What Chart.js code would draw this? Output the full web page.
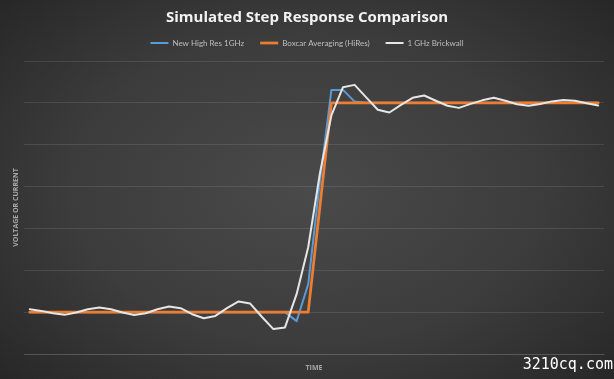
<!DOCTYPE html>
<html>
<head>
<meta charset="utf-8">
<script src="https://cdn.jsdelivr.net/npm/chart.js@4/dist/chart.umd.min.js"></script>
<style>
  html, body { margin: 0; padding: 0; }
  body {
    width: 614px; height: 379px; overflow: hidden; position: relative;
    background: radial-gradient(ellipse 70% 75% at 50% 50%, #4a4a4a 0%, #3c3c3c 55%, #262626 100%);
  }
  #wrap { position: absolute; left: 0; top: 0; width: 614px; height: 379px; }
  #wm {
    position: absolute; right: 1px; top: 355px;
    font-family: "DejaVu Sans Mono", monospace; font-size: 15px; color: #ffffff;
  }
</style>
</head>
<body>
<div id="wrap"><canvas id="c" width="614" height="379"></canvas></div>
<div id="wm">3210cq.com</div>
<script>
const chartTitle = "Simulated Step Response Comparison";
const seriesNames = ["New High Res 1GHz", "Boxcar Averaging (HiRes)", "1 GHz Brickwall"];
const categories = [1,2,3,4,5,6,7,8,9,10,11,12,13,14,15,16,17,18,19,20,21,22,23,24,25,
                    26,27,28,29,30,31,32,33,34,35,36,37,38,39,40,41,42,43,44,45,46,47,48,49,50];
const highRes = [0,0,0,0,0,0,0,0,0,0,0,0,0,0,0,0,0,0,0,0,0,0,0.0,-0.043,0.133,
                 0.62,1.062,1.062,1.006,1,1,1,1,1,1,1,1,1,1,1,1,1,1,1,1,1,1,1,1,1];
const boxcar = [0,0,0,0,0,0,0,0,0,0,0,0,0,0,0,0,0,0,0,0,0,0,0,0,0,
                0.5,1,1,1,1,1,1,1,1,1,1,1,1,1,1,1,1,1,1,1,1,1,1,1,1];
const brickwall = [0.014,0.006,-0.005,-0.013,-0.002,0.014,0.022,0.014,-0.002,-0.014,
                   -0.005,0.014,0.027,0.019,-0.010,-0.029,-0.018,0.019,0.051,0.041,
                   -0.022,-0.081,-0.073,0.086,0.31,0.66,0.94,1.075,1.086,1.026,
                   0.967,0.954,0.99,1.024,1.035,1.01,0.986,0.976,0.995,1.012,
                   1.024,1.01,0.993,0.986,0.995,1.007,1.014,1.01,0.998,0.987];
const yMin = -0.2, yMax = 1.2, yStep = 0.2;
const xTitle = "TIME", yTitle = "VOLTAGE OR CURRENT";

const gridColor = "rgba(255,255,255,0.10)";
const textGray = "#bfbfbf";

new Chart(document.getElementById("c"), {
  type: "line",
  data: {
    labels: categories,
    datasets: [
      { label: seriesNames[0], data: highRes, borderColor: "#5b9bd5", backgroundColor: "#5b9bd5", borderWidth: 2, order: 3 },
      { label: seriesNames[1], data: boxcar, borderColor: "#ed7d31", backgroundColor: "#ed7d31", borderWidth: 2.75, order: 2 },
      { label: seriesNames[2], data: brickwall, borderColor: "#e6e6e6", backgroundColor: "#e6e6e6", borderWidth: 2, order: 1 }
    ]
  },
  options: {
    responsive: false,
    animation: false,
    devicePixelRatio: 1,
    layout: { padding: 0 },
    elements: { point: { radius: 0, hoverRadius: 0 }, line: { tension: 0, borderCapStyle: "round", borderJoinStyle: "round" } },
    plugins: {
      tooltip: { enabled: false },
      title: {
        display: true, text: chartTitle, color: "#f2f2f2",
        font: { family: "'Open Sans', sans-serif", size: 15, weight: "bold" },
        padding: { top: 9, bottom: -4 }
      },
      legend: {
        display: true, position: "top",
        labels: {
          color: textGray, usePointStyle: true, pointStyle: "line", pointStyleWidth: 18,
          boxHeight: 2, padding: 16,
          font: { family: "Lato, sans-serif", size: 8 },
          sort: (a, b) => a.datasetIndex - b.datasetIndex
        }
      }
    },
    scales: {
      x: {
        type: "category", offset: true,
        grid: { display: false, drawTicks: false },
        border: { display: true, color: gridColor, width: 1 },
        ticks: { display: false },
        title: { display: true, text: xTitle, color: "#a6a6a6",
                 font: { family: "'Open Sans', sans-serif", size: 7, weight: "bold" },
                 padding: { top: 0, bottom: 7 } },
        afterFit: (s) => { s.height = 25; }
      },
      xTop: {
        type: "category", position: "top", offset: true,
        grid: { display: false, drawTicks: false },
        border: { display: false },
        ticks: { display: false },
        afterFit: (s) => { s.height = 4; }
      },
      y: {
        min: yMin, max: yMax,
        grid: { color: gridColor, drawTicks: false, lineWidth: 1 },
        border: { display: false },
        ticks: { display: false, stepSize: yStep },
        title: { display: true, text: yTitle, color: "#a6a6a6",
                 font: { family: "'Open Sans', sans-serif", size: 7, weight: "bold" },
                 padding: { top: 12, bottom: 0 } },
        afterFit: (s) => { s.width = 24; }
      },
      yRight: {
        type: "linear", position: "right", min: yMin, max: yMax,
        grid: { display: false, drawTicks: false },
        border: { display: false },
        ticks: { display: false },
        afterFit: (s) => { s.width = 10; }
      }
    }
  }
});
</script>
</body>
</html>
